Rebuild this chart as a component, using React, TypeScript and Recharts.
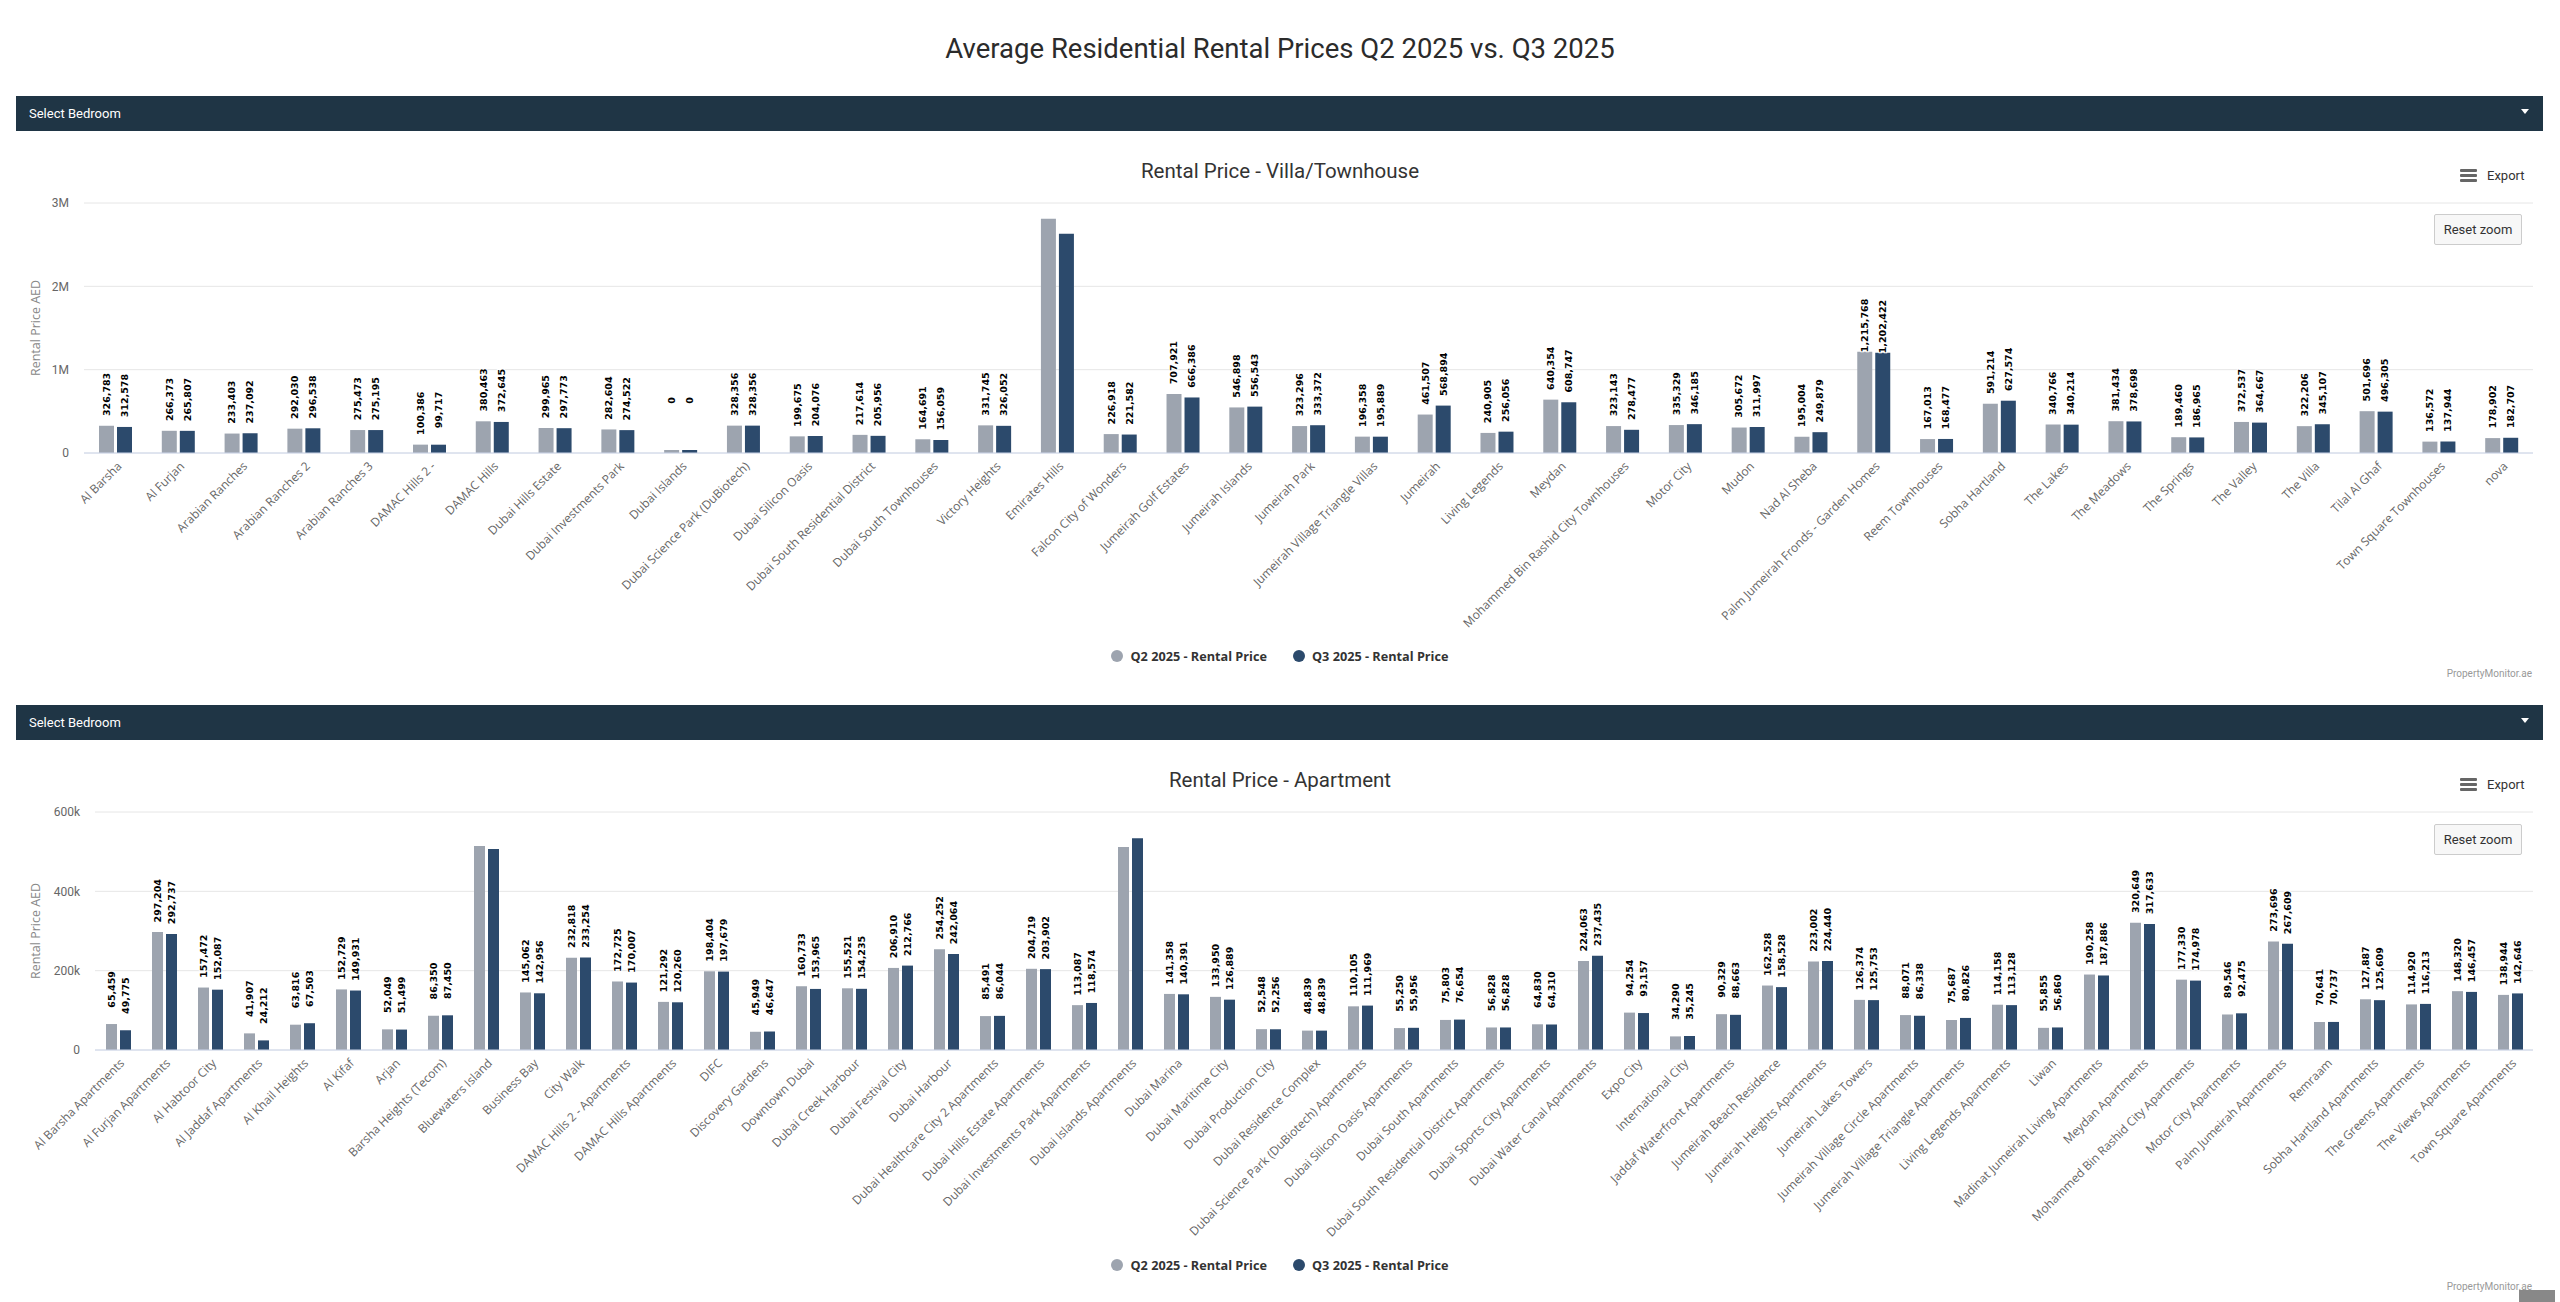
import React from 'react';
import { BarChart, Bar, XAxis, YAxis, CartesianGrid, Legend, LabelList } from 'recharts';

// ---------- Villa / Townhouse data ----------
const villaCategories = [
  'Al Barsha', 'Al Furjan', 'Arabian Ranches', 'Arabian Ranches 2', 'Arabian Ranches 3', 'DAMAC Hills 2 -',
  'DAMAC Hills', 'Dubai Hills Estate', 'Dubai Investments Park', 'Dubai Islands', 'Dubai Science Park (DuBiotech)',
  'Dubai Silicon Oasis', 'Dubai South Residential District', 'Dubai South Townhouses', 'Victory Heights',
  'Emirates Hills', 'Falcon City of Wonders', 'Jumeirah Golf Estates', 'Jumeirah Islands', 'Jumeirah Park',
  'Jumeirah Village Triangle Villas', 'Jumeirah', 'Living Legends', 'Meydan', 'Mohammed Bin Rashid City Townhouses',
  'Motor City', 'Mudon', 'Nad Al Sheba', 'Palm Jumeirah Fronds - Garden Homes', 'Reem Townhouses', 'Sobha Hartland',
  'The Lakes', 'The Meadows', 'The Springs', 'The Valley', 'The Villa', 'Tilal Al Ghaf', 'Town Square Townhouses', 'nova',
];
const villaQ2 = [
  326783, 266373, 233403, 292030, 275473, 100386, 380463, 299965, 282604, 0, 328356, 199675, 217614, 164691, 331745,
  2810000, 226918, 707921, 546898, 323296, 196358, 461507, 240905, 640354, 323143, 335329, 305672, 195004, 1215768,
  167013, 591214, 340766, 381434, 189460, 372537, 322206, 501696, 136572, 178902,
];
const villaQ3 = [
  312578, 265807, 237092, 296538, 275195, 99717, 372645, 297773, 274522, 0, 328356, 204076, 205956, 156059, 326052,
  2630000, 221582, 666386, 556543, 333372, 195889, 568894, 256056, 608747, 278477, 346185, 311997, 249879, 1202422,
  168477, 627574, 340214, 378698, 186965, 364667, 345107, 496305, 137944, 182707,
];
const villaTicks = [0, 1000000, 2000000, 3000000];

// ---------- Apartment data ----------
const aptCategories = [
  'Al Barsha Apartments', 'Al Furjan Apartments', 'Al Habtoor City', 'Al Jaddaf Apartments', 'Al Khail Heights',
  'Al Kifaf', 'Arjan', 'Barsha Heights (Tecom)', 'Bluewaters Island', 'Business Bay', 'City Walk',
  'DAMAC Hills 2 - Apartments', 'DAMAC Hills Apartments', 'DIFC', 'Discovery Gardens', 'Downtown Dubai',
  'Dubai Creek Harbour', 'Dubai Festival City', 'Dubai Harbour', 'Dubai Healthcare City 2 Apartments',
  'Dubai Hills Estate Apartments', 'Dubai Investments Park Apartments', 'Dubai Islands Apartments', 'Dubai Marina',
  'Dubai Maritime City', 'Dubai Production City', 'Dubai Residence Complex', 'Dubai Science Park (DuBiotech) Apartments',
  'Dubai Silicon Oasis Apartments', 'Dubai South Apartments', 'Dubai South Residential District Apartments',
  'Dubai Sports City Apartments', 'Dubai Water Canal Apartments', 'Expo City', 'International City',
  'Jaddaf Waterfront Apartments', 'Jumeirah Beach Residence', 'Jumeirah Heights Apartments', 'Jumeirah Lakes Towers',
  'Jumeirah Village Circle Apartments', 'Jumeirah Village Triangle Apartments', 'Living Legends Apartments', 'Liwan',
  'Madinat Jumeirah Living Apartments', 'Meydan Apartments', 'Mohammed Bin Rashid City Apartments',
  'Motor City Apartments', 'Palm Jumeirah Apartments', 'Remraam', 'Sobha Hartland Apartments',
  'The Greens Apartments', 'The Views Apartments', 'Town Square Apartments',
];
const aptQ2 = [
  65459, 297204, 157472, 41907, 63816, 152729, 52049, 86350, 514000, 145062, 232818, 172725, 121292, 198404, 45949,
  160733, 155521, 206910, 254252, 85491, 204719, 113087, 512000, 141358, 133950, 52548, 48839, 110105, 55250, 75803,
  56828, 64830, 224063, 94254, 34290, 90329, 162528, 223002, 126374, 88071, 75687, 114158, 55855, 190258, 320649,
  177330, 89546, 273696, 70641, 127887, 114920, 148320, 138944,
];
const aptQ3 = [
  49775, 292737, 152087, 24212, 67503, 149931, 51499, 87450, 507000, 142956, 233254, 170007, 120260, 197679, 46647,
  153965, 154235, 212766, 242064, 86044, 203902, 118574, 534000, 140391, 126889, 52256, 48839, 111969, 55956, 76654,
  56828, 64310, 237435, 93157, 35245, 88663, 158528, 224440, 125753, 86338, 80826, 113128, 56860, 187886, 317633,
  174978, 92475, 267609, 70737, 125609, 116213, 146457, 142646,
];
const aptTicks = [0, 200000, 400000, 600000];

const seriesNames = ['Q2 2025 - Rental Price', 'Q3 2025 - Rental Price'];
const Q2_COLOR = '#9da4af';
const Q3_COLOR = '#2c4a6c';
const HEADER_COLOR = '#1f3545';

const villaData = villaCategories.map((name, i) => ({ name, q2: villaQ2[i], q3: villaQ3[i] }));
const aptData = aptCategories.map((name, i) => ({ name, q2: aptQ2[i], q3: aptQ3[i] }));

const fmtNum = (v: number) => Number(v).toLocaleString('en-US');

const CategoryTick = (props: any) => {
  const { x, y, payload } = props;
  return (
    <g transform={`translate(${x + 4},${y + 11})`}>
      <text
        x={0}
        y={0}
        dy="0.35em"
        textAnchor="end"
        transform="rotate(-45)"
        fontSize={12}
        fontFamily="'Open Sans', sans-serif"
        fill="#666666"
      >
        {payload.value}
      </text>
    </g>
  );
};

const makeValueLabel = (plotTop: number) => (props: any) => {
  const { x, y, width, value } = props;
  const top = y - 53;
  if (top < plotTop) return null;
  const cx = x + width / 2;
  return (
    <text
      x={cx}
      y={top}
      dy="0.35em"
      textAnchor="end"
      transform={`rotate(-90 ${cx} ${top})`}
      fontSize={9.5}
      fontWeight="bold"
      fontFamily="'DejaVu Sans', sans-serif"
      fill="#000000"
      stroke="#ffffff"
      strokeWidth={2}
      paintOrder="stroke"
    >
      {fmtNum(value)}
    </text>
  );
};

const AxisTitle = (props: any) => {
  const { px, py } = props;
  return (
    <text
      x={px}
      y={py}
      dy="0.35em"
      textAnchor="middle"
      transform={`rotate(-90 ${px} ${py})`}
      fontSize={12.5}
      fontFamily="'Open Sans', sans-serif"
      fill="#888888"
    >
      Rental Price AED
    </text>
  );
};

const LegendContent = () => (
  <div
    style={{
      height: 20,
      lineHeight: '20px',
      display: 'flex',
      justifyContent: 'center',
      alignItems: 'center',
      paddingLeft: 27,
      fontFamily: "'Open Sans', sans-serif",
      fontWeight: 700,
      fontSize: 12.7,
      color: '#333333',
    }}
  >
    {seriesNames.map((n, i) => (
      <div key={n} style={{ display: 'flex', alignItems: 'center', marginLeft: i === 0 ? 0 : 26 }}>
        <span
          style={{
            display: 'inline-block',
            width: 12,
            height: 12,
            borderRadius: 6,
            background: i === 0 ? Q2_COLOR : Q3_COLOR,
            marginRight: 7,
          }}
        />
        <span>{n}</span>
      </div>
    ))}
  </div>
);

type ChartProps = {
  data: any[];
  top: number;
  height: number;
  marginTop: number;
  marginBottom: number;
  xAxisHeight: number;
  yAxisWidth: number;
  ticks: number[];
  tickFmt: (v: number) => string;
  barSize: number;
  plotHeight: number;
  minPoint?: number;
};

const RentalChart = (p: ChartProps) => {
  const label = makeValueLabel(p.marginTop);
  return (
    <div style={{ position: 'absolute', left: 0, top: p.top, width: 2560, height: p.height }}>
      <BarChart
        width={2560}
        height={p.height}
        data={p.data}
        margin={{ top: p.marginTop, right: 27, bottom: p.marginBottom, left: 0 }}
        barGap={3}
        barSize={p.barSize}
      >
        <CartesianGrid vertical={false} stroke="#e6e6e6" />
        <XAxis
          dataKey="name"
          interval={0}
          height={p.xAxisHeight}
          tickLine={false}
          tickSize={0}
          tickMargin={0}
          axisLine={{ stroke: '#ccd6eb' }}
          tick={<CategoryTick />}
        />
        <YAxis
          width={p.yAxisWidth}
          domain={[p.ticks[0], p.ticks[p.ticks.length - 1]]}
          ticks={p.ticks}
          tickFormatter={p.tickFmt}
          axisLine={false}
          tickLine={false}
          tickSize={0}
          tickMargin={15}
          tick={{ fontSize: 12, fill: '#666666', fontFamily: 'Roboto, sans-serif' }}
          label={<AxisTitle px={36} py={p.marginTop + p.plotHeight / 2} />}
        />
        <Legend verticalAlign="bottom" align="center" content={<LegendContent />} />
        <Bar dataKey="q2" name={seriesNames[0]} fill={Q2_COLOR} isAnimationActive={false} minPointSize={p.minPoint || 0}>
          <LabelList dataKey="q2" content={label} />
        </Bar>
        <Bar dataKey="q3" name={seriesNames[1]} fill={Q3_COLOR} isAnimationActive={false} minPointSize={p.minPoint || 0}>
          <LabelList dataKey="q3" content={label} />
        </Bar>
      </BarChart>
    </div>
  );
};

const HeaderBar = ({ top }: { top: number }) => (
  <div
    style={{
      position: 'absolute',
      left: 16,
      top,
      width: 2527,
      height: 35,
      background: HEADER_COLOR,
      color: '#ffffff',
      fontFamily: 'Roboto, sans-serif',
      fontSize: 13,
      lineHeight: '35px',
    }}
  >
    <span style={{ position: 'absolute', left: 13 }}>Select Bedroom</span>
    <div
      style={{
        position: 'absolute',
        right: 14,
        top: 13,
        width: 0,
        height: 0,
        borderLeft: '4px solid transparent',
        borderRight: '4px solid transparent',
        borderTop: '5px solid #ffffff',
      }}
    />
  </div>
);

const ChartTitle = ({ text, cy }: { text: string; cy: number }) => (
  <div
    style={{
      position: 'absolute',
      left: 0,
      width: 2560,
      top: cy - 14,
      height: 28,
      lineHeight: '28px',
      textAlign: 'center',
      fontFamily: 'Roboto, sans-serif',
      fontSize: 20.5,
      color: '#333333',
    }}
  >
    {text}
  </div>
);

const ExportButton = ({ cy }: { cy: number }) => (
  <div style={{ position: 'absolute', left: 2460, top: cy - 8, height: 16, width: 80 }}>
    {[0, 5, 10].map((o) => (
      <div key={o} style={{ position: 'absolute', left: 0, top: o + 1, width: 17, height: 3, background: '#666666', borderRadius: 1 }} />
    ))}
    <span
      style={{
        position: 'absolute',
        left: 27,
        top: -1,
        fontFamily: 'Roboto, sans-serif',
        fontSize: 13,
        lineHeight: '18px',
        color: '#333333',
      }}
    >
      Export
    </span>
  </div>
);

const ResetZoom = ({ top }: { top: number }) => (
  <div
    style={{
      position: 'absolute',
      left: 2434,
      top,
      width: 88,
      height: 31,
      boxSizing: 'border-box',
      background: '#f7f7f7',
      border: '1px solid #cccccc',
      borderRadius: 2,
      fontFamily: 'Roboto, sans-serif',
      fontSize: 13,
      lineHeight: '29px',
      textAlign: 'center',
      color: '#333333',
    }}
  >
    Reset zoom
  </div>
);

const Credit = ({ cy }: { cy: number }) => (
  <div
    style={{
      position: 'absolute',
      right: 2560 - 2532,
      top: cy - 7,
      height: 14,
      lineHeight: '14px',
      fontFamily: 'Roboto, sans-serif',
      fontSize: 10,
      color: '#999999',
    }}
  >
    PropertyMonitor.ae
  </div>
);

export default function App() {
  return (
    <div
      style={{
        position: 'absolute',
        left: 0,
        top: 0,
        width: 2560,
        height: 1302,
        background: '#ffffff',
        overflow: 'hidden',
      }}
    >
      <div
        style={{
          position: 'absolute',
          left: 0,
          width: 2560,
          top: 33,
          height: 32,
          lineHeight: '32px',
          textAlign: 'center',
          fontFamily: 'Roboto, sans-serif',
          fontSize: 27.5,
          color: '#2b2b2b',
        }}
      >
        Average Residential Rental Prices Q2 2025 vs. Q3 2025
      </div>

      <HeaderBar top={96} />
      <ChartTitle text="Rental Price - Villa/Townhouse" cy={171} />
      <ExportButton cy={176} />
      <RentalChart
        data={villaData}
        top={190}
        height={510}
        marginTop={13}
        marginBottom={34}
        xAxisHeight={193}
        yAxisWidth={84}
        plotHeight={250}
        ticks={villaTicks}
        tickFmt={(v) => (v === 0 ? '0' : `${v / 1000000}M`)}
        barSize={15}
        minPoint={3}
      />
      <ResetZoom top={214} />
      <Credit cy={674} />

      <HeaderBar top={705} />
      <ChartTitle text="Rental Price - Apartment" cy={780} />
      <ExportButton cy={785} />
      <RentalChart
        data={aptData}
        top={795}
        height={507}
        marginTop={17}
        marginBottom={27}
        xAxisHeight={205}
        yAxisWidth={95}
        plotHeight={238}
        ticks={aptTicks}
        tickFmt={(v) => (v === 0 ? '0' : `${v / 1000}k`)}
        barSize={11}
      />
      <ResetZoom top={824} />
      <Credit cy={1287} />
      <div style={{ position: 'absolute', left: 2519, top: 1290, width: 36, height: 12, background: '#888888' }} />
    </div>
  );
}
